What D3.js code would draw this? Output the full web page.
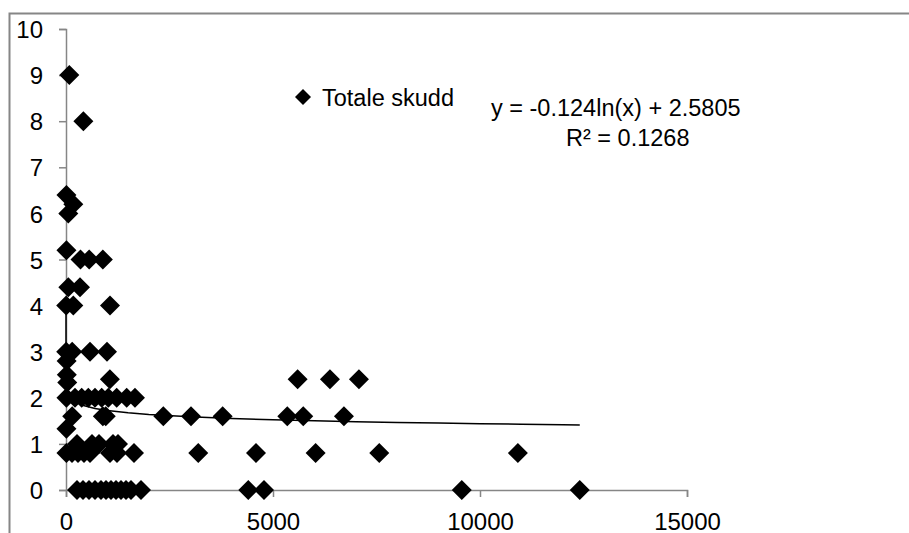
<!DOCTYPE html>
<html>
<head>
<meta charset="utf-8">
<script src="https://cdn.jsdelivr.net/npm/d3@7"></script>
<style>
  html, body { margin: 0; padding: 0; background: #fff; }
  svg { display: block; }
  text { font-family: "Liberation Sans", Arial, sans-serif; fill: #000; }
</style>
</head>
<body>
<svg id="chart" width="909" height="533"></svg>
<script>
// Observations: x value and number of shots ("Totale skudd")
const xValues = [
  80, 420, 10, 176, 56, 10, 350, 560, 890, 56, 338, 5, 176, 1063,
  5, 150, 580, 990, 15, 20, 30, 1060,
  10, 217, 379, 539, 700, 862, 1022, 1224, 1466, 1666,
  150, 890, 960, 2350, 3019, 3784, 5345, 5731, 6714,
  10,
  266, 628, 797, 1135, 1256,
  10, 145, 290, 435, 580, 1063, 1232, 1642, 3195, 4589, 6030, 7566, 10915,
  5595, 6376, 7076,
  266, 411, 556, 700, 845, 966, 1087, 1208, 1328, 1449, 1570, 1811, 4403, 4782, 9560, 12410
];
const shotValues = [
  9, 8, 6.4, 6.2, 6, 5.2, 5, 5, 5, 4.4, 4.4, 4, 4, 4,
  3, 3, 3, 3, 2.8, 2.5, 2.33, 2.4,
  2, 2, 2, 2, 2, 2, 2, 2, 2, 2,
  1.6, 1.6, 1.6, 1.6, 1.6, 1.6, 1.6, 1.6, 1.6,
  1.33,
  1, 1, 1, 1, 1,
  0.8, 0.8, 0.8, 0.8, 0.8, 0.8, 0.8, 0.8, 0.8, 0.8, 0.8, 0.8, 0.8,
  2.4, 2.4, 2.4,
  0, 0, 0, 0, 0, 0, 0, 0, 0, 0, 0, 0, 0, 0, 0, 0
];

// Tick values
const xTicks = [0, 5000, 10000, 15000];
const yTicks = [0, 1, 2, 3, 4, 5, 6, 7, 8, 9, 10];

// Logarithmic trendline y = a*ln(x) + b
const trendA = -0.124;
const trendB = 2.5805;
const trendR2 = 0.1268;
const trendXStart = 1e-5;
const trendXEnd = 12410;

const seriesName = "Totale skudd";

const svg = d3.select("#chart");
const gray = "#868686";

const x = d3.scaleLinear().domain([0, 15000]).range([66, 687]);
const y = d3.scaleLinear().domain([0, 10]).range([490, 29]);

// Chart area frame (left and top edges visible)
svg.append("path")
  .attr("d", "M9.5,533 V13.5 H909")
  .attr("fill", "none")
  .attr("stroke", gray)
  .attr("stroke-width", 2);

// Y axis
const yAxis = svg.append("g")
  .attr("transform", `translate(${x(0)},0)`)
  .call(d3.axisLeft(y).tickValues(yTicks).tickSize(7).tickPadding(16).tickFormat(d3.format("d")));
yAxis.select(".domain").attr("stroke", gray).attr("stroke-width", 1.5);
yAxis.selectAll(".tick line").attr("stroke", gray).attr("stroke-width", 1.5);
yAxis.selectAll(".tick text")
  .attr("font-size", 24)
  .attr("font-family", "Liberation Sans, Arial, sans-serif")
  .attr("fill", "#000")
  .attr("dy", "0.36em");

// X axis
const xAxis = svg.append("g")
  .attr("transform", `translate(0,${y(0)})`)
  .call(d3.axisBottom(x).tickValues(xTicks).tickSize(7).tickPadding(16).tickFormat(d3.format("d")));
xAxis.select(".domain").attr("stroke", gray).attr("stroke-width", 1.5);
xAxis.selectAll(".tick line").attr("stroke", gray).attr("stroke-width", 1.5);
xAxis.selectAll(".tick text")
  .attr("font-size", 24)
  .attr("font-family", "Liberation Sans, Arial, sans-serif")
  .attr("fill", "#000");

// Data points as diamonds
const points = xValues.map((v, i) => ({ x: v, y: shotValues[i] }));
const diamond = d3.symbol().type(d3.symbolSquare).size(200);
svg.append("g")
  .selectAll("path")
  .data(points)
  .join("path")
  .attr("d", diamond)
  .attr("transform", d => `translate(${x(d.x)},${y(d.y)}) rotate(45)`)
  .attr("fill", "#000");

// Trendline sampled over the data range
const trendXs = [trendXStart, 1e-4, 1e-3, 0.01, 0.1, 1, 3, 10, 30, 100, 200, 400, 700, 1000, 1500, 2000, 3000]
  .concat(d3.range(4000, trendXEnd, 1000)).concat([trendXEnd]);
const trendLine = d3.line()
  .x(d => x(d))
  .y(d => y(trendA * Math.log(d) + trendB));
svg.append("path")
  .datum(trendXs)
  .attr("d", trendLine)
  .attr("fill", "none")
  .attr("stroke", "#000")
  .attr("stroke-width", 1.5);

// Legend
const legend = svg.append("g").attr("transform", "translate(303,97)");
legend.append("path")
  .attr("d", d3.symbol().type(d3.symbolSquare).size(128))
  .attr("transform", "rotate(45)")
  .attr("fill", "#000");
legend.append("text")
  .attr("x", 19)
  .attr("y", 8.5)
  .attr("font-size", 23.5)
  .text(seriesName);

// Trendline equation label
const eq = svg.append("g");
eq.append("text")
  .attr("x", 491)
  .attr("y", 116)
  .attr("font-size", 23.5)
  .text(`y = ${trendA}ln(x) + ${trendB}`);
eq.append("text")
  .attr("x", 566)
  .attr("y", 146)
  .attr("font-size", 23.5)
  .text(`R² = ${trendR2}`);
</script>
</body>
</html>
